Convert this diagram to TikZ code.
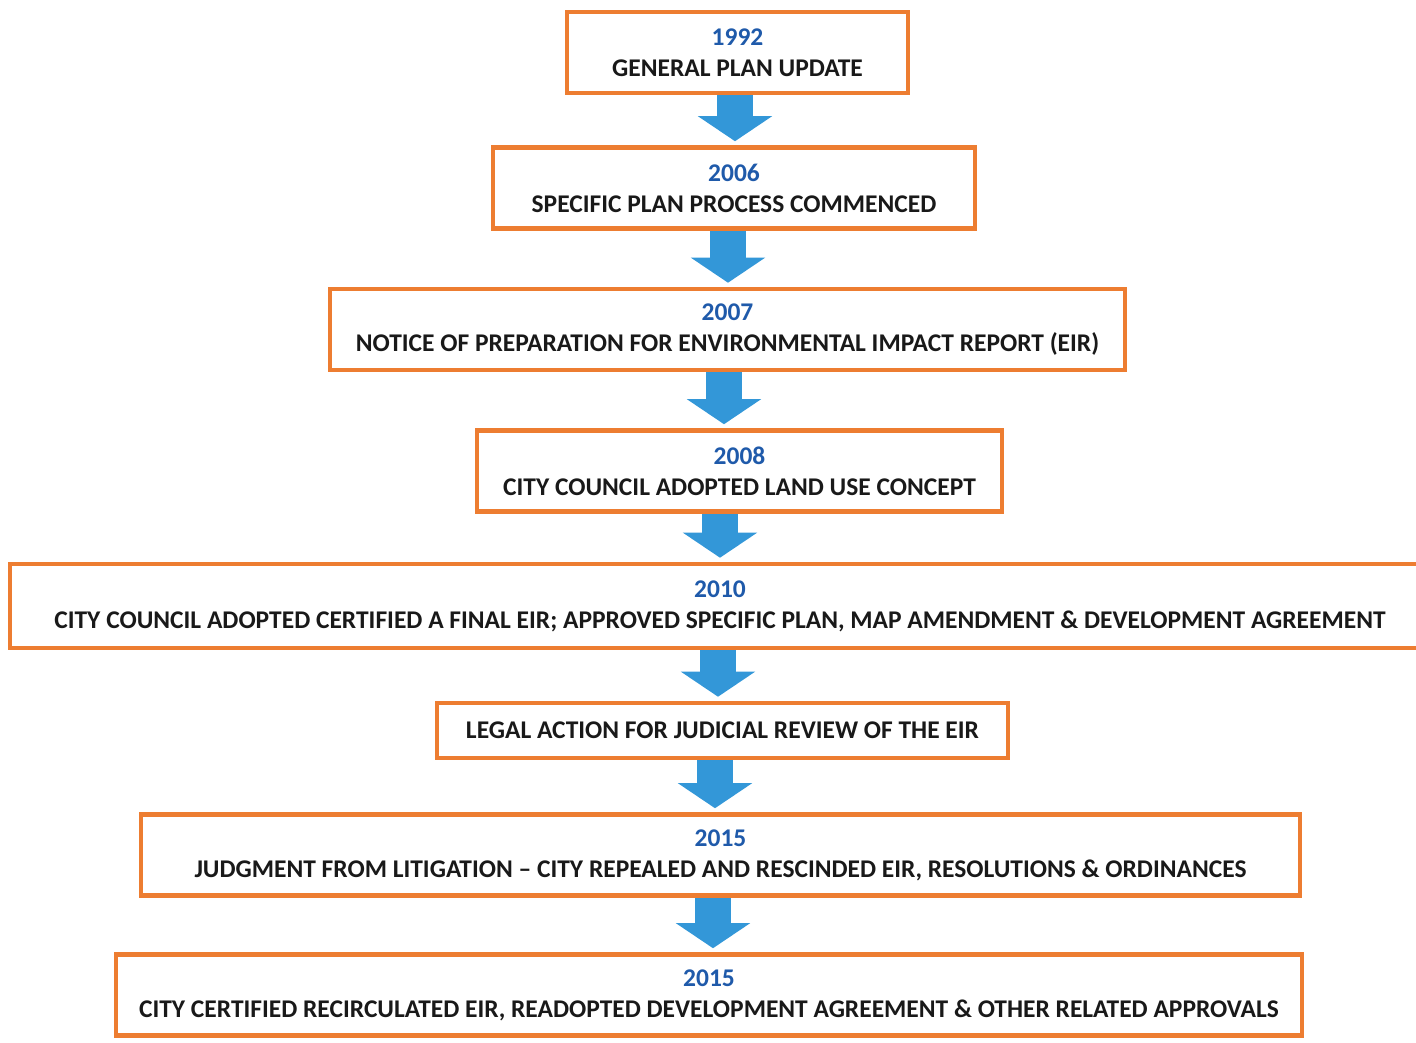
\documentclass[tikz,border=0pt]{standalone}
\usepackage{fontspec}
\setmainfont{Carlito}
\usetikzlibrary{arrows.meta,calc}
\definecolor{boxorange}{HTML}{ED7D31}
\definecolor{flowblue}{HTML}{3397D8}
\definecolor{yearblue}{HTML}{1F5AAA}
\newcommand{\yr}[1]{{\color{yearblue}#1}}

\begin{document}
\begin{tikzpicture}[
  font=\fontsize{14.5}{17.6}\selectfont\bfseries,
  event/.style={draw=boxorange, line width=2.6pt, fill=white, align=center,
    inner sep=2pt, minimum height=1.62cm, text=black!90},
  flow/.style={draw=flowblue, line width=0.72cm,
    -{Triangle[length=0.5cm, width=1.46cm]}, shorten >=0.08cm},
]
  \useasboundingbox (0,0) rectangle (28.32,-20.84);

  % Timeline boxes
  \node[event, minimum width=6.82cm] (gp) at (14.75,-1.05)
    {\yr{1992}\\GENERAL PLAN UPDATE};
  \node[event, minimum width=9.64cm] (sp) at (14.68,-3.76)
    {\yr{2006}\\SPECIFIC PLAN PROCESS COMMENCED};
  \node[event, minimum width=15.90cm] (nop) at (14.55,-6.59)
    {\yr{2007}\\NOTICE OF PREPARATION FOR ENVIRONMENTAL IMPACT REPORT (EIR)};
  \node[event, minimum width=10.50cm] (luc) at (14.79,-9.42)
    {\yr{2008}\\CITY COUNCIL ADOPTED LAND USE CONCEPT};
  \node[event, minimum width=28.40cm, minimum height=1.68cm] (feir) at (14.40,-12.12)
    {\yr{2010}\\CITY COUNCIL ADOPTED CERTIFIED A FINAL EIR; APPROVED SPECIFIC PLAN, MAP AMENDMENT \& DEVELOPMENT AGREEMENT};
  \node[event, minimum width=11.42cm, minimum height=1.10cm] (legal) at (14.45,-14.61)
    {LEGAL ACTION FOR JUDICIAL REVIEW OF THE EIR};
  \node[event, minimum width=23.18cm] (judg) at (14.41,-17.10)
    {\yr{2015}\\JUDGMENT FROM LITIGATION -- CITY REPEALED AND RESCINDED EIR, RESOLUTIONS \& ORDINANCES};
  \node[event, minimum width=23.72cm] (recirc) at (14.18,-19.90)
    {\yr{2015}\\CITY CERTIFIED RECIRCULATED EIR, READOPTED DEVELOPMENT AGREEMENT \& OTHER RELATED APPROVALS};

  % Block arrows
  \draw[flow] ($(gp.south)+(-0.05,0)$) -- ($(gp.south |- sp.north)+(-0.05,0)$);
  \draw[flow] ($(sp.south)+(-0.12,0)$) -- ($(sp.south |- nop.north)+(-0.12,0)$);
  \draw[flow] ($(nop.south)+(-0.07,0)$) -- ($(nop.south |- luc.north)+(-0.07,0)$);
  \draw[flow] ($(luc.south)+(-0.39,0)$) -- ($(luc.south |- feir.north)+(-0.39,0)$);
  \draw[flow] ($(feir.south)+(-0.04,0)$) -- ($(feir.south |- legal.north)+(-0.04,0)$);
  \draw[flow] ($(legal.south)+(-0.15,0)$) -- ($(legal.south |- judg.north)+(-0.15,0)$);
  \draw[flow] ($(judg.south)+(-0.15,0)$) -- ($(judg.south |- recirc.north)+(-0.15,0)$);
\end{tikzpicture}
\end{document}
